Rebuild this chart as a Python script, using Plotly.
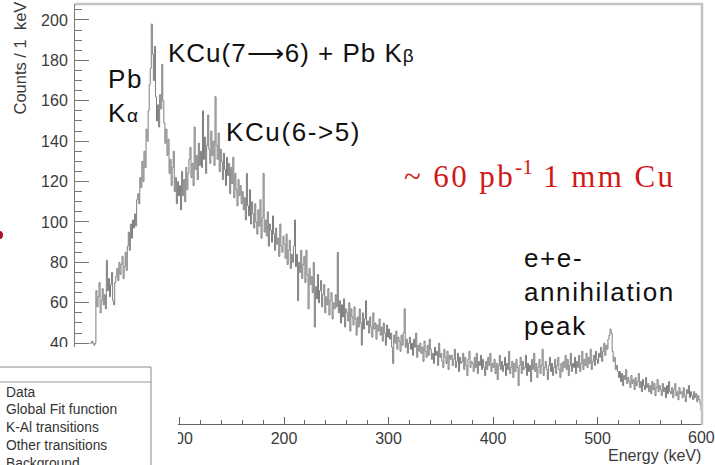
import plotly.graph_objects as go

# ---------------- data (counts per 1 keV bin, starting at 14 keV) ----------------
bin_start_kev = 14
bin_width_kev = 1
counts = [
    40, 40, 41, 40, 39, 40,                                  # 14-19
    66, 58, 63, 70, 55, 61, 67, 59, 64, 57,                  # 20
    81, 66, 72, 63, 69, 75, 61, 59, 70, 73,                  # 30
    77, 71, 80, 74, 79, 83, 72, 78, 85, 76,                  # 40
    88, 95, 86, 99, 92, 101, 97, 104, 98, 111,               # 50
    114, 109, 122, 117, 130, 120, 135, 127, 146, 140,        # 60
    155, 168, 176, 198, 183, 170, 187, 162, 150, 158,        # 70
    147, 163, 156, 178, 160, 149, 139, 146, 133, 141,        # 80
    124, 131, 118, 127, 135, 115, 122, 109, 120, 113,        # 90
    118, 106, 125, 113, 121, 110, 127, 116, 124, 131,        # 100
    137, 122, 129, 118, 147, 126, 133, 121, 139, 128,        # 110
    135, 127, 155, 131, 142, 124, 138, 153, 136, 129,        # 120
    145, 133, 140, 128, 162, 138, 131, 144, 125, 136,        # 130
    130, 121, 134, 126, 118, 132, 123, 129, 114, 127,        # 140
    119, 132, 112, 124, 116, 108, 121, 113, 118, 109,        # 150
    115, 106, 112, 101, 124, 108, 103, 116, 99, 110,         # 160
    104, 97, 109, 100, 94, 106, 98, 111, 92, 102,            # 170
    124, 95, 101, 93, 105, 88, 99, 96, 90, 103,              # 180
    94, 86, 97, 89, 92, 83, 99, 88, 85, 93,                  # 190
    89, 82, 94, 79, 86, 91, 77, 84, 80, 88,                  # 200
    101, 78, 84, 61, 80, 75, 86, 72, 79, 83,                 # 210
    70, 86, 74, 57, 77, 69, 73, 65, 80, 48,                  # 220
    68, 62, 74, 60, 66, 71, 58, 64, 69, 55,                  # 230
    63, 59, 67, 54, 61, 65, 52, 60, 57, 64,                  # 240
    58, 85, 55, 61, 50, 59, 53, 62, 48, 57,                  # 250
    55, 51, 60, 46, 57, 53, 49, 58, 52, 44,                  # 260
    53, 48, 57, 50, 39, 55, 47, 52, 61, 49,                  # 270
    51, 45, 53, 48, 43, 55, 47, 50, 42, 49,                  # 280
    46, 52, 44, 48, 41, 50, 45, 39, 49, 43,                  # 290
    47, 42, 45, 38, 30, 44, 40, 46, 37, 43,                  # 300
    41, 36, 44, 39, 45, 57, 38, 42, 35, 40,                  # 310
    43, 37, 40, 34, 42, 38, 45, 33, 39, 36,                  # 320
    40, 35, 38, 31, 41, 36, 33, 39, 34, 42,                  # 330
    37, 32, 35, 30, 38, 34, 36, 29, 40, 33,                  # 340
    35, 31, 28, 37, 33, 30, 36, 27, 34, 32,                  # 350
    34, 29, 32, 37, 28, 31, 35, 26, 33, 30,                  # 360
    31, 35, 27, 33, 29, 24, 32, 36, 28, 31,                  # 370
    30, 26, 33, 28, 35, 25, 31, 29, 34, 27,                  # 380
    32, 28, 24, 31, 27, 33, 29, 35, 26, 30,                  # 390
    28, 32, 25, 30, 22, 29, 34, 27, 31, 26,                  # 400
    29, 33, 24, 30, 27, 36, 25, 28, 31, 23,                  # 410
    30, 26, 32, 28, 19, 29, 33, 25, 31, 27,                  # 420
    28, 34, 24, 30, 26, 29, 21, 32, 27, 35,                  # 430
    26, 30, 23, 28, 32, 25, 29, 37, 24, 28,                  # 440
    31, 27, 22, 29, 33, 26, 30, 24, 28, 32,                  # 450
    25, 29, 33, 27, 23, 30, 26, 31, 28, 34,                  # 460
    27, 32, 24, 29, 35, 26, 30, 28, 33, 25,                  # 470
    31, 28, 34, 26, 30, 36, 27, 32, 29, 35,                  # 480
    28, 33, 30, 37, 27, 31, 34, 29, 36, 32,                  # 490
    30, 35, 33, 38, 31, 36, 40, 34, 39, 37,                  # 500
    42, 44, 47, 45, 36, 31, 33, 27, 29, 26,                  # 510
    23, 26, 21, 25, 19, 24, 22, 27, 20, 23,                  # 520
    21, 18, 24, 20, 22, 17, 23, 19, 21, 25,                  # 530
    18, 21, 16, 22, 19, 17, 23, 18, 20, 16,                  # 540
    19, 15, 21, 17, 20, 14, 18, 22, 16, 19,                  # 550
    17, 14, 20, 16, 18, 13, 19, 15, 21, 16,                  # 560
    15, 18, 13, 17, 20, 14, 16, 12, 18, 15,                  # 570
    16, 13, 18, 14, 11, 17, 15, 19, 13, 16,                  # 580
    14, 12, 16, 13, 15, 11, 14, 12, 10, 7,                   # 590
]

x_tick_values = [100, 200, 300, 400, 500, 600]
y_tick_values = [40, 60, 80, 100, 120, 140, 160, 180, 200]
legend_entries = ["Data", "Global Fit function", "K-Al transitions",
                  "Other transitions", "Background"]

# ---------------- geometry helpers (pixels -> paper) ----------------
W, H = 715, 465


def px(x):
    return x / W


def py(y):
    return 1 - y / H


edges = [bin_start_kev + i * bin_width_kev for i in range(len(counts) + 1)]
yvals = counts + [counts[-1]]

fig = go.Figure()
fig.add_trace(go.Scatter(
    x=edges, y=yvals, mode="lines",
    line=dict(shape="hv", color="#7e7e7e", width=1),
    hoverinfo="skip", showlegend=False,
))

SANS = "Liberation Sans, Arial, Helvetica, sans-serif"
SERIF = "Liberation Serif, Times New Roman, serif"
TICKC = "#3a3a3a"

fig.update_layout(
    width=W, height=H,
    margin=dict(l=0, r=0, t=0, b=0),
    paper_bgcolor="white", plot_bgcolor="white",
    showlegend=False,
    xaxis=dict(
        domain=[px(75), px(702)], range=[0, 600],
        tickvals=x_tick_values, ticks="inside", ticklen=7, tickwidth=1,
        tickcolor="#666", showline=True, linecolor="#666", linewidth=1,
        showgrid=False, zeroline=False, automargin=False,
        tickfont=dict(family=SANS, size=16, color=TICKC),
        minor=dict(dtick=20, ticks="inside", ticklen=4, tickcolor="#666"),
    ),
    yaxis=dict(
        domain=[py(424), py(4)], range=[0, 207.9],
        tickvals=y_tick_values, ticks="inside", ticklen=14, tickwidth=1,
        tickcolor="#777", showline=True, linecolor="#777", linewidth=1,
        showgrid=False, zeroline=False, ticklabelstandoff=3, automargin=False,
        tickfont=dict(family=SANS, size=16, color=TICKC),
        minor=dict(dtick=5, ticks="inside", ticklen=7, tickcolor="#777"),
    ),
)

shapes = []
shapes.append(dict(type="line", xref="paper", yref="paper",
                   x0=px(75), x1=px(703), y0=py(4), y1=py(4),
                   line=dict(color="#c4c4c4", width=2.5), layer="above"))
shapes.append(dict(type="line", xref="paper", yref="paper",
                   x0=px(702), x1=px(702), y0=py(3), y1=py(425),
                   line=dict(color="#c4c4c4", width=2.5), layer="above"))
shapes.append(dict(type="rect", xref="paper", yref="paper",
                   x0=px(-5), x1=px(178), y0=py(347), y1=py(470),
                   fillcolor="white", line=dict(width=0), layer="above"))
shapes.append(dict(type="rect", xref="paper", yref="paper",
                   x0=px(-3), x1=px(151), y0=py(367), y1=py(475),
                   fillcolor="white", line=dict(color="#8a8a8a", width=1),
                   layer="above"))
shapes.append(dict(type="line", xref="paper", yref="paper",
                   x0=px(-3), x1=px(151), y0=py(382), y1=py(382),
                   line=dict(color="#9a9a9a", width=1), layer="above"))
shapes.append(dict(type="circle", xref="paper", yref="paper",
                   x0=px(-4), x1=px(3), y0=py(239), y1=py(231),
                   fillcolor="#b0102a", line=dict(width=0), layer="above"))
fig.update_layout(shapes=shapes)

ann = []


def add_text(text, x, y, size, color="#111", family=SANS, xanchor="left",
             yanchor="middle", angle=0):
    ann.append(dict(text=text, x=px(x), y=py(y), xref="paper", yref="paper",
                    xanchor=xanchor, yanchor=yanchor, showarrow=False,
                    textangle=angle, align="left",
                    font=dict(family=family, size=size, color=color)))


def sp(s, ls):
    return "<span style='letter-spacing:%.1fpx'>%s</span>" % (ls, s)


LS = 1.6
add_text(sp("KCu(7\u27f66) + Pb K", 1.0) + "<span style='font-size:19px'>\u03b2</span>",
         166, 53, 26)
add_text(sp("Pb", LS) + "<br>" + sp("K", LS)
         + "<span style='font-size:19px'>\u03b1</span>", 106, 96, 26)
add_text(sp("KCu(6->5)", LS), 224, 132, 26)
add_text(sp("~ 60 pb", 2.4) + "<sup>-1</sup>" + sp(" 1 mm Cu", 2.4),
         402, 174, 31, color="#d01818", family=SERIF)
add_text(sp("e+e-", LS) + "<br>" + sp("annihilation", LS) + "<br>"
         + sp("peak", LS), 522, 292, 26)

# axis titles and the right-most tick label (placed as text so it is not hidden)
add_text("Counts / 1  keV", 19, 0, 16.5, color=TICKC, xanchor="center",
         yanchor="top", angle=-90)
add_text("Energy (keV)", 703, 455, 16, color=TICKC, xanchor="right")
add_text("600", 701, 437, 16, color=TICKC, xanchor="center")

# legend texts
for i, t in enumerate(legend_entries):
    add_text(t, 4, 392 + i * 17.9, 13.8, color="#333")

fig.update_layout(annotations=ann)

fig.write_html("out.html")
